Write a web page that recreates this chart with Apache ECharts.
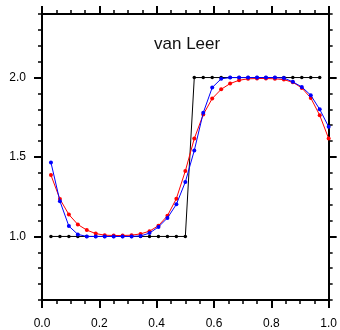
<!DOCTYPE html>
<html>
<head>
<meta charset="utf-8">
<script src="https://cdn.jsdelivr.net/npm/echarts@6/dist/echarts.min.js"></script>
<style>
html,body{margin:0;padding:0;background:#fff;}
#chart{width:340px;height:330px;}
</style>
</head>
<body>
<div id="chart"></div>
<script>
// x positions (cell centres i/32)
var xValues = [0.03125,0.0625,0.09375,0.125,0.15625,0.1875,0.21875,0.25,0.28125,0.3125,0.34375,0.375,0.40625,0.4375,0.46875,0.5,
  0.53125,0.5625,0.59375,0.625,0.65625,0.6875,0.71875,0.75,0.78125,0.8125,0.84375,0.875,0.90625,0.9375,0.96875,1.0];
// exact (initial) step profile
var exactValues = [1,1,1,1,1,1,1,1,1,1,1,1,1,1,1,1,2,2,2,2,2,2,2,2,2,2,2,2,2,2,2];
// red series
var redValues = [1.386,1.235,1.138,1.075,1.040,1.018,1.008,1.006,1.006,1.008,1.016,1.033,1.068,1.130,1.238,1.412,
  1.616,1.767,1.868,1.926,1.962,1.983,1.992,1.994,1.994,1.992,1.987,1.970,1.935,1.872,1.763,1.616];
// blue series
var blueValues = [1.465,1.222,1.065,1.013,1.000,1.000,1.000,1.000,1.000,1.000,1.003,1.021,1.060,1.116,1.202,1.343,
  1.541,1.778,1.937,1.992,2.000,2.000,2.000,2.000,2.000,2.000,1.997,1.973,1.941,1.889,1.800,1.690];
// tick values
var yMajorTicks = [1.0,1.5,2.0];
var yMinorTicks = [0.6,0.7,0.8,0.9,1.1,1.2,1.3,1.4,1.6,1.7,1.8,1.9,2.1,2.2,2.3,2.4];
var titleText = 'van Leer';

function pairs(xs, ys){ return ys.map(function(v,i){ return [xs[i], v]; }); }

var FONT = 'Liberation Sans';
var axisLineStyle = {color:'#000', width:2};

function xAxisDef(pos, showLabel){
  return {
    type:'value', position:pos, min:0, max:1, interval:0.2,
    axisLine:{show:true, onZero:false, lineStyle:axisLineStyle},
    axisTick:{show:true, inside:false, length:8, lineStyle:{color:'#000', width:2}},
    minorTick:{show:true, splitNumber:4, length:4, lineStyle:{color:'#000', width:1.5}},
    axisLabel:{show:showLabel, margin:18, fontFamily:FONT, fontSize:12, color:'#000',
      formatter:function(v){ return v.toFixed(1); }},
    splitLine:{show:false}, minorSplitLine:{show:false}
  };
}
function yAxisDef(pos, major){
  return {
    type:'value', position:pos, min:0.6, max:2.4,
    axisLine:{show:major, onZero:false, lineStyle:axisLineStyle},
    axisTick:{show:true, inside:false, customValues: major ? yMajorTicks : yMinorTicks,
      length: major ? 8 : 4, lineStyle:{color:'#000', width: major ? 2 : 1.5}},
    axisLabel:{show: major && pos==='left', customValues: yMajorTicks, margin:16, fontFamily:FONT, fontSize:12, color:'#000',
      formatter:function(v){ return v.toFixed(1); }},
    splitLine:{show:false}
  };
}

var chart = echarts.init(document.getElementById('chart'), null, {renderer:'canvas'});
chart.setOption({
  animation:false,
  backgroundColor:'#fff',
  title:{text:titleText, left:154, top:36, padding:0,
    textStyle:{fontFamily:FONT, fontSize:17, fontWeight:'normal', color:'#111'}},
  grid:{left:42, right:9, top:14, bottom:28, containLabel:false},
  xAxis:[xAxisDef('bottom', true), xAxisDef('top', false)],
  yAxis:[yAxisDef('left', true), yAxisDef('left', false), yAxisDef('right', true), yAxisDef('right', false)],
  series:[
    {type:'line', name:'exact', data:pairs(xValues, exactValues), xAxisIndex:0, yAxisIndex:0,
      symbol:'circle', symbolSize:3.5, itemStyle:{color:'#000'}, lineStyle:{color:'#000', width:1}, z:2},
    {type:'line', name:'red', data:pairs(xValues, redValues), xAxisIndex:0, yAxisIndex:0,
      symbol:'circle', symbolSize:4, itemStyle:{color:'#ff0000'}, lineStyle:{color:'#ff0000', width:1}, z:3},
    {type:'line', name:'blue', data:pairs(xValues, blueValues), xAxisIndex:0, yAxisIndex:0,
      symbol:'circle', symbolSize:4, itemStyle:{color:'#0000ff'}, lineStyle:{color:'#0000ff', width:1}, z:4}
  ]
});
</script>
</body>
</html>
